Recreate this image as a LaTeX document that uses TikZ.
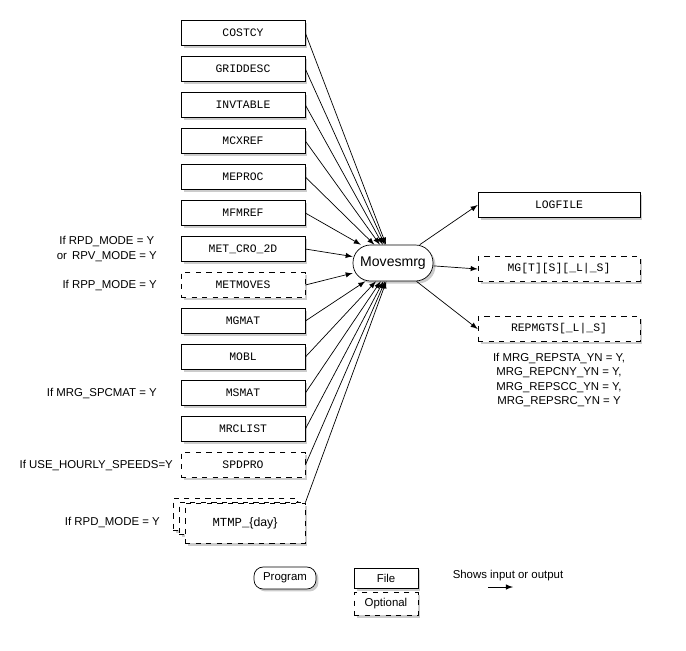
\documentclass[tikz,border=0pt]{standalone}
\usepackage{fontspec}
\setmainfont{Liberation Sans}
\newfontfamily\mono{Liberation Mono}
\usetikzlibrary{positioning,shadows}
\tikzset{
  file/.style={draw, fill=white, minimum width=2.48cm, minimum height=0.5cm, font=\mono\fontsize{6.5}{8}\selectfont,
    drop shadow={shadow xshift=0.05cm, shadow yshift=-0.05cm, fill=black!40}},
  opt/.style={file, dashed},
  prog/.style={draw, fill=white, rounded corners=0.35cm, minimum width=1.6cm, minimum height=0.72cm, font=\fontsize{8}{10}\selectfont,
    drop shadow={shadow xshift=0.05cm, shadow yshift=-0.05cm, fill=black!40}},
  note/.style={font=\fontsize{6.5}{8}\selectfont, align=center},
  flow/.style={-latex, thin}
}
\begin{document}
\begin{tikzpicture}[x=0.02cm, y=-0.02cm]
\useasboundingbox (0,0) rectangle (686,650);

% program
\node[prog] (m) at (393,263) {Movesmrg};

% inputs
\node[file] (costcy) at (243,33) {COSTCY};
\node[file] (griddesc) at (243,69) {GRIDDESC};
\node[file] (invtable) at (243,105) {INVTABLE};
\node[file] (mcxref) at (243,141) {MCXREF};
\node[file] (meproc) at (243,177) {MEPROC};
\node[file] (mfmref) at (243,213) {MFMREF};
\node[file] (metcro) at (243,249) {MET\_CRO\_2D};
\node[opt] (metmoves) at (243,285) {METMOVES};
\node[file] (mgmat) at (243,321) {MGMAT};
\node[file] (mobl) at (243,357) {MOBL};
\node[file] (msmat) at (243,393) {MSMAT};
\node[file] (mrclist) at (243,429) {MRCLIST};
\node[opt] (spdpro) at (243,465) {SPDPRO};
\node[opt, minimum width=2.48cm, minimum height=0.64cm] (mtmpc) at (235,514) {};
\node[opt, minimum width=2.48cm, minimum height=0.64cm] (mtmpb) at (241,518) {};
\node[opt, minimum width=2.4cm, minimum height=0.8cm, font=\fontsize{7}{8}\selectfont] (mtmp) at (245,523) {{\mono MTMP\_}\{day\}};

% outputs
\node[file, minimum width=3.24cm] (logfile) at (559,205) {LOGFILE};
\node[opt, minimum width=3.24cm] (mg) at (559,269) {MG[T][S][\_L|\_S]};
\node[opt, minimum width=3.24cm] (repmgts) at (559,329) {REPMGTS[\_L|\_S]};

% conditions
\node[note, anchor=east] at (163,249) {If RPD\_MODE = Y\\ or\, RPV\_MODE = Y};
\node[note, anchor=east] at (163,285) {If RPP\_MODE = Y};
\node[note, anchor=east] at (163,393) {If MRG\_SPCMAT = Y};
\node[note, anchor=east] at (179,465) {If USE\_HOURLY\_SPEEDS=Y};
\node[note, anchor=east] at (166,522) {If RPD\_MODE = Y};
\node[note] at (559,380) {If MRG\_REPSTA\_YN = Y,\\ MRG\_REPCNY\_YN = Y,\\ MRG\_REPSCC\_YN = Y,\\ MRG\_REPSRC\_YN = Y};

% connectors
\foreach \n in {costcy,griddesc,invtable,mcxref,meproc,mfmref,metcro,metmoves,mgmat,mobl,msmat,mrclist,spdpro}
  \draw[flow] (\n.east) -- (m);
\draw[flow] (mtmp.north east) -- (m);
\foreach \n in {logfile,mg,repmgts}
  \draw[flow] (m) -- (\n.west);

% legend
\node[prog, minimum width=1.24cm, minimum height=0.36cm, rounded corners=0.18cm, font=\fontsize{6.5}{8}\selectfont] (lprog) at (285,578) {Program};
\node[file, minimum width=1.28cm, minimum height=0.36cm, font=\fontsize{6.5}{8}\selectfont] (lfile) at (386,578) {File};
\node[opt, minimum width=1.28cm, minimum height=0.36cm, font=\fontsize{6.5}{8}\selectfont] (lopt) at (386,604) {Optional};
\node[note] (ltext) at (508,576) {Shows input or output};
\coordinate (la) at (488,587);
\coordinate (lb) at (513,587);
\draw[flow] (la) -- (lb);
\end{tikzpicture}
\end{document}
